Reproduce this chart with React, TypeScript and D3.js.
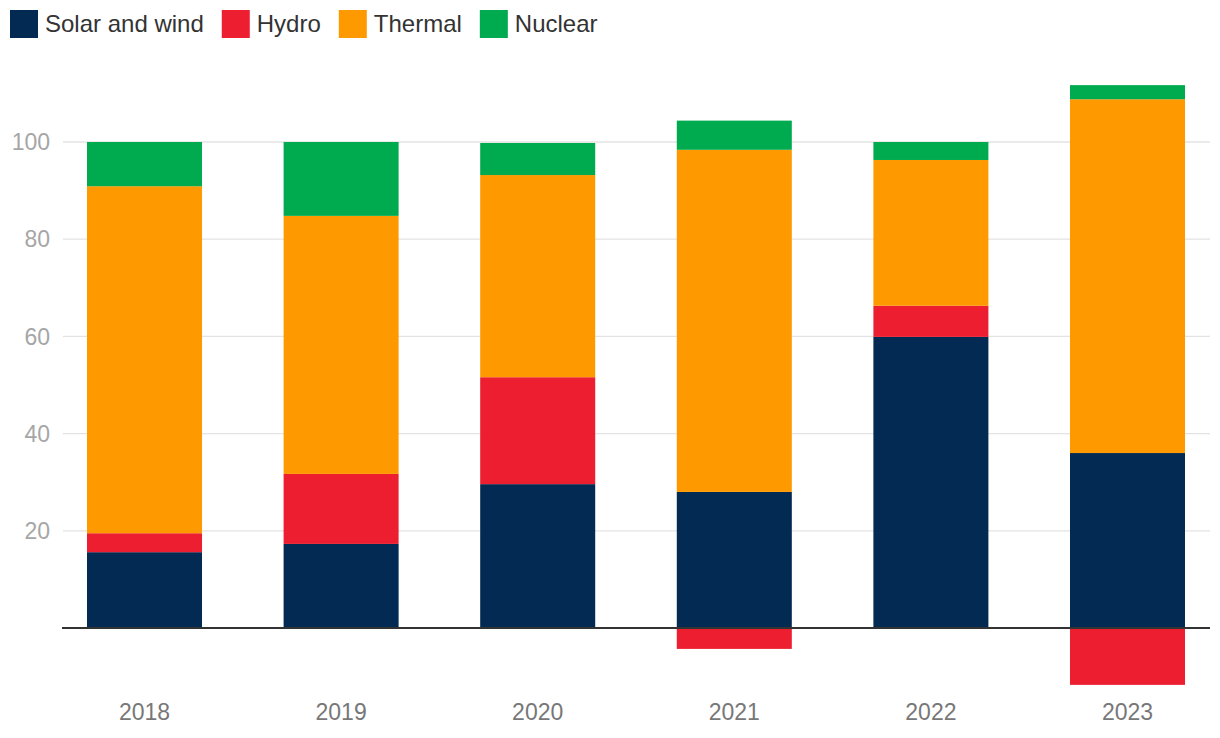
import React, { useEffect, useRef } from "react";
import * as d3 from "d3";

const years = ["2018", "2019", "2020", "2021", "2022", "2023"];
const seriesNames = ["Solar and wind", "Hydro", "Thermal", "Nuclear"];
const solarWind = [15.6, 17.3, 29.6, 28.0, 59.9, 36.0];
const hydro = [3.9, 14.4, 22.0, -4.3, 6.4, -11.7];
const thermal = [71.4, 53.1, 41.6, 70.4, 30.0, 72.8];
const nuclear = [9.1, 15.2, 6.6, 6.0, 3.7, 2.9];
const yTicks = [20, 40, 60, 80, 100];
const colors = ["#032a52", "#ec1e2f", "#ff9900", "#00aa4f"];

const W = 1220;
const H = 738;
const FONT = "'Liberation Sans', Arial, Helvetica, sans-serif";

export default function App() {
  const ref = useRef<SVGSVGElement>(null);

  useEffect(() => {
    document.body.style.margin = "0";
    const svg = d3.select(ref.current);
    svg.selectAll("*").remove();

    const rows = years.map((y, i) => ({
      year: y,
      "Solar and wind": solarWind[i],
      Hydro: hydro[i],
      Thermal: thermal[i],
      Nuclear: nuclear[i],
    }));

    const x = d3.scaleBand<string>().domain(years).range([87, 1185]).paddingInner(0.415).paddingOuter(0);
    const y = d3.scaleLinear().domain([0, 100]).range([628, 142]);

    // gridlines
    const g = svg.append("g");
    g.selectAll("line.grid")
      .data(yTicks)
      .join("line")
      .attr("x1", 63)
      .attr("x2", 1210)
      .attr("y1", (d) => y(d))
      .attr("y2", (d) => y(d))
      .attr("stroke", "#e3e3e3")
      .attr("stroke-width", 1.3);

    g.selectAll("text.ytick")
      .data(yTicks)
      .join("text")
      .attr("x", 50)
      .attr("y", (d) => y(d))
      .attr("dy", "0.36em")
      .attr("text-anchor", "end")
      .attr("font-family", FONT)
      .attr("font-size", 23)
      .attr("fill", "#a6a6a6")
      .text((d) => String(d));

    const stack = d3
      .stack<any>()
      .keys(seriesNames)
      .offset(d3.stackOffsetDiverging);
    const stacked = stack(rows);

    svg
      .append("g")
      .selectAll("g")
      .data(stacked)
      .join("g")
      .attr("fill", (_, i) => colors[i])
      .selectAll("rect")
      .data((d) => d)
      .join("rect")
      .attr("x", (d: any) => x(d.data.year)!)
      .attr("width", x.bandwidth())
      .attr("y", (d) => y(Math.max(d[0], d[1])))
      .attr("height", (d) => Math.abs(y(d[0]) - y(d[1])));

    // zero axis line
    svg
      .append("line")
      .attr("x1", 62)
      .attr("x2", 1210)
      .attr("y1", y(0))
      .attr("y2", y(0))
      .attr("stroke", "#333333")
      .attr("stroke-width", 2);

    // x labels
    svg
      .append("g")
      .selectAll("text")
      .data(years)
      .join("text")
      .attr("x", (d) => x(d)! + x.bandwidth() / 2)
      .attr("y", 720)
      .attr("text-anchor", "middle")
      .attr("font-family", FONT)
      .attr("font-size", 23)
      .attr("fill", "#777777")
      .text((d) => d);

    // legend
    const leg = svg.append("g");
    let cx = 10;
    seriesNames.forEach((name, i) => {
      leg
        .append("rect")
        .attr("x", cx)
        .attr("y", 10)
        .attr("width", 28)
        .attr("height", 28)
        .attr("fill", colors[i]);
      const t = leg
        .append("text")
        .attr("x", cx + 35)
        .attr("y", 32)
        .attr("font-family", FONT)
        .attr("font-size", 24)
        .attr("fill", "#333333")
        .text(name);
      const w = (t.node() as SVGTextElement).getComputedTextLength();
      cx = cx + 35 + w + 18;
    });
  }, []);

  return (
    <svg
      ref={ref}
      width={W}
      height={H}
      viewBox={`0 0 ${W} ${H}`}
      style={{ display: "block", background: "#ffffff" }}
    />
  );
}
